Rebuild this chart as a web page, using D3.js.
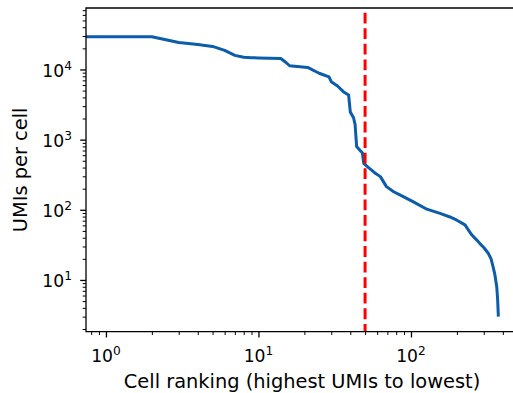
<!DOCTYPE html>
<html>
<head>
<meta charset="utf-8">
<script src="https://cdn.jsdelivr.net/npm/d3@7"></script>
<style>
  body { margin: 0; background: #fff; }
  text { font-family: "DejaVu Sans", sans-serif; fill: #000; }
</style>
</head>
<body>
<div id="wrapper"></div>
<script>
// barcode rank (0-based) and UMI count
const ranks = [0, 1, 2, 3, 4, 5, 6, 7, 8, 9, 10, 14, 15, 16, 21, 25, 29, 30, 33, 36, 39, 40, 42, 43, 44, 47, 48, 49, 52, 58, 63, 69, 77, 89, 103, 127, 155, 180, 200, 226, 240, 250, 270, 283, 300, 321, 335, 347, 355, 365, 370, 374];
const umis = [29300, 29300, 29300, 24300, 22700, 21300, 18700, 15900, 14900, 14700, 14600, 14350, 12800, 11300, 10700, 8830, 7820, 6700, 5820, 4830, 4330, 2480, 2050, 1650, 800, 680, 650, 460, 408, 335, 297, 214, 181, 154, 131, 102, 89, 79, 71, 61, 50, 44, 37, 33, 29, 24, 20, 14.7, 11.8, 8, 5.2, 3];
const cutoffRank = 50;

const xMajor = [1, 10, 100];
const yMajor = [10, 100, 1000, 10000];
const xLabel = "Cell ranking (highest UMIs to lowest)";
const yLabel = "UMIs per cell";

const xDomain = [0.74, 503];
const yDomain = [1.83, 75200];

const width = 513, height = 393;
const margin = { top: 8, right: -5, bottom: 61.3, left: 86 };
const innerBottom = height - margin.bottom;
const innerRight = width - margin.right;

const svg = d3.select("#wrapper").append("svg")
  .attr("width", width)
  .attr("height", height);

// rank 0 sits at the left edge like matplotlib's clipped log axis
const x = d3.scaleLog().domain(xDomain).range([margin.left, innerRight]).clamp(true);
const y = d3.scaleLog().domain(yDomain).range([innerBottom, margin.top]).clamp(true);

const isMajor = v => Math.abs(Math.log10(v) - Math.round(Math.log10(v))) < 1e-9;

// minor ticks
const xMinor = x.ticks().filter(v => !isMajor(v));
const yMinor = y.ticks().filter(v => !isMajor(v));

const xAxisMinor = svg.append("g")
  .attr("transform", `translate(0,${innerBottom})`)
  .call(d3.axisBottom(x).tickValues(xMinor).tickSize(3.3).tickFormat(""));
const yAxisMinor = svg.append("g")
  .attr("transform", `translate(${margin.left},0)`)
  .call(d3.axisLeft(y).tickValues(yMinor).tickSize(3.3).tickFormat(""));
[xAxisMinor, yAxisMinor].forEach(g => {
  g.select(".domain").remove();
  g.selectAll("line").attr("stroke-width", 1);
});

const xAxis = svg.append("g")
  .attr("transform", `translate(0,${innerBottom})`)
  .call(d3.axisBottom(x).tickValues(xMajor).tickSize(5.8).tickFormat(""));
const yAxis = svg.append("g")
  .attr("transform", `translate(${margin.left},0)`)
  .call(d3.axisLeft(y).tickValues(yMajor).tickSize(5.8).tickFormat(""));
[xAxis, yAxis].forEach(g => {
  g.select(".domain").remove();
  g.selectAll("line").attr("stroke-width", 1.3);
});

// 10^n labels
const xt = svg.append("g").selectAll("text")
  .data(xMajor)
  .join("text")
  .attr("x", d => x(d))
  .attr("y", 361.5)
  .attr("text-anchor", "middle")
  .style("font-size", "17.2px")
  .text("10");
xt.append("tspan")
  .attr("dy", -7)
  .style("font-size", "12.2px")
  .text(d => Math.round(Math.log10(d)));

const yt = svg.append("g").selectAll("text")
  .data(yMajor)
  .join("text")
  .attr("x", 72)
  .attr("y", d => y(d) + 7.3)
  .attr("text-anchor", "end")
  .style("font-size", "17.2px")
  .text("10");
yt.append("tspan")
  .attr("dy", -7)
  .style("font-size", "12.2px")
  .text(d => Math.round(Math.log10(d)));

// knee curve
const points = ranks.map((r, i) => ({ rank: r, umi: umis[i] }));
svg.append("path")
  .datum(points)
  .attr("fill", "none")
  .attr("stroke", "#0b5cab")
  .attr("stroke-width", 3)
  .attr("stroke-linejoin", "round")
  .attr("d", d3.line().x(d => x(d.rank)).y(d => y(d.umi)));

// cutoff line
svg.append("line")
  .attr("x1", x(cutoffRank))
  .attr("x2", x(cutoffRank))
  .attr("y1", innerBottom)
  .attr("y2", margin.top)
  .attr("stroke", "#ff0000")
  .attr("stroke-width", 3)
  .attr("stroke-dasharray", "10.8,4.76")
  .attr("stroke-dashoffset", 3);

// spines (right one falls outside the picture)
svg.append("path")
  .attr("fill", "none")
  .attr("stroke", "#000")
  .attr("stroke-width", 1.3)
  .attr("d", `M${innerRight},${margin.top}H${margin.left}V${innerBottom}H${innerRight}`);

svg.append("text")
  .attr("x", (margin.left + innerRight) / 2)
  .attr("y", 388)
  .attr("text-anchor", "middle")
  .style("font-size", "19.4px")
  .text(xLabel);

svg.append("text")
  .attr("transform", `translate(27,${(margin.top + innerBottom) / 2}) rotate(-90)`)
  .attr("text-anchor", "middle")
  .style("font-size", "19.4px")
  .text(yLabel);
</script>
</body>
</html>
